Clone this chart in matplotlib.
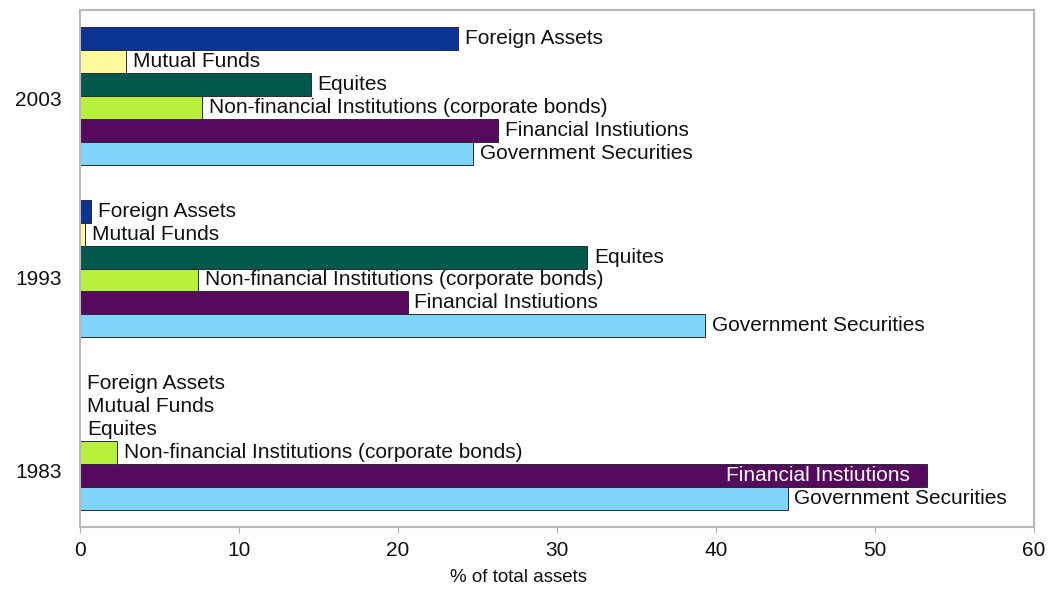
import matplotlib
matplotlib.use("Agg")
import matplotlib.pyplot as plt
import matplotlib.transforms as mtransforms
import numpy as np

plt.rcParams['font.family'] = ['Liberation Sans', 'DejaVu Sans']

years = ["1983", "1993", "2003"]
# series listed bottom-to-top within each group
series = ["Government Securities", "Financial Instiutions",
          "Non-financial Institutions (corporate bonds)", "Equites",
          "Mutual Funds", "Foreign Assets"]
gov_sec = [44.5, 39.3, 24.7]
fin_inst = [53.3, 20.6, 26.3]
nonfin = [2.3, 7.4, 7.7]
equities = [0.0, 31.9, 14.5]
mutual = [0.0, 0.3, 2.9]
foreign = [0.0, 0.7, 23.8]
colors = ["#80d4fa", "#560a5e", "#b6f03a", "#02584a", "#fdfb9c", "#0b3494"]

values = [gov_sec, fin_inst, nonfin, equities, mutual, foreign]

fig = plt.figure(figsize=(10.51, 5.90), dpi=100)
ax = fig.add_axes([80/1051, 1 - 527/590, (1034-80)/1051, (527-10)/590])

n = len(series)
group_w = 0.8
bh = group_w / n
y = np.arange(len(years))
fs = 15
for i, (name, vals, col) in enumerate(zip(series, values, colors)):
    ypos = y - group_w/2 + bh*(i + 0.5)
    ax.barh(ypos, vals, height=bh, color=col, edgecolor="#2a2a3a", linewidth=0.7, zorder=2)
    for yy, v in zip(ypos, vals):
        if v > 50:
            ax.annotate(name, (v, yy), xytext=(-13, 0), textcoords="offset points",
                        ha="right", va="center", fontsize=fs, color="white", zorder=3)
        else:
            ax.annotate(name, (v, yy), xytext=(5, 0), textcoords="offset points",
                        ha="left", va="center", fontsize=fs, color="#111111", zorder=3)

ax.set_xlim(0, 60)
ax.set_ylim(-0.5, len(years) - 0.5)
ax.set_xticks(np.arange(0, 61, 10))
ax.set_yticks(y)
ax.set_yticklabels(years)
ax.tick_params(axis="y", length=0, pad=13, labelsize=fs, labelcolor="#111111")
ax.tick_params(axis="x", length=4, color="#b0b0b0", pad=6, labelsize=fs, labelcolor="#111111")
# year labels sit somewhat below group centres in the reference
for lab, dy in zip(ax.get_yticklabels(), [-30, -9, -2]):
    lab.set_transform(lab.get_transform() + mtransforms.ScaledTranslation(0, dy/100, fig.dpi_scale_trans))
ax.set_xlabel("% of total assets", fontsize=13.5, color="#111111")
ax.xaxis.set_label_coords((519-80)/954, -42/517)
for s in ax.spines.values():
    s.set_color("#b8b8b8")
    s.set_linewidth(1.5)

fig.savefig("out.png", dpi=100, facecolor="white")
